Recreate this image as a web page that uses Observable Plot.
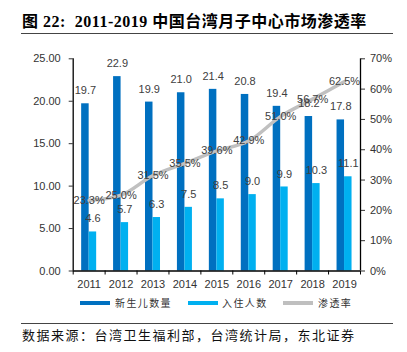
<!DOCTYPE html>
<html>
<head>
<meta charset="utf-8">
<script src="https://cdn.jsdelivr.net/npm/d3@7"></script>
<script src="https://cdn.jsdelivr.net/npm/@observablehq/plot@0.6"></script>
<style>
  html, body { margin: 0; padding: 0; background: #fff; }
  #wrap { position: relative; width: 407px; height: 352px; overflow: hidden; background: #fff; }
  #title { position: absolute; left: 22px; top: 12px; font-family: "Liberation Serif", "Noto Sans CJK SC", serif; font-weight: bold; font-size: 16px; letter-spacing: 0.5px; color: #000; white-space: nowrap; line-height: 20px; }
  .hline { position: absolute; left: 21px; width: 372px; height: 0; border-top: 1px solid #444; }
  #chart { position: absolute; left: 0; top: 40px; }
  .sw { position: absolute; width: 30px; height: 4px; top: 301px; }
  .lt { position: absolute; top: 296px; font-family: "Noto Sans CJK SC", sans-serif; font-size: 10px; letter-spacing: 1.4px; color: #333; line-height: 14px; white-space: nowrap; }
  #foot { position: absolute; left: 22px; top: 326px; font-family: "Noto Sans CJK SC", sans-serif; font-size: 13px; letter-spacing: 1.5px; color: #111; white-space: nowrap; line-height: 18px; }
</style>
</head>
<body>
<div id="wrap">
  <div id="title">图 22:&nbsp; 2011-2019 中国台湾月子中心市场渗透率</div>
  <div class="hline" style="top:33px"></div>
  <div id="chart"></div>
  <div class="sw" style="left:80px;background:#0070C0"></div><div class="lt" style="left:115px">新生儿数量</div>
  <div class="sw" style="left:188px;background:#00B0F0"></div><div class="lt" style="left:222px">入住人数</div>
  <div class="sw" style="left:283px;background:#BFBFBF"></div><div class="lt" style="left:318px">渗透率</div>
  <div class="hline" style="top:323px"></div>
  <div id="foot">数据来源：台湾卫生福利部，台湾统计局，东北证券</div>
</div>
<script>
const years = [2011, 2012, 2013, 2014, 2015, 2016, 2017, 2018, 2019];
const births = [19.7, 22.9, 19.9, 21.0, 21.4, 20.8, 19.4, 18.2, 17.8];
const checkins = [4.6, 5.7, 6.3, 7.5, 8.5, 9.0, 9.9, 10.3, 11.1];
const rates = [23.3, 25.0, 31.5, 35.5, 39.6, 42.9, 51.0, 56.7, 62.5];
const leftTicks = [0, 5, 10, 15, 20, 25];
const rightTicks = [0, 10, 20, 30, 40, 50, 60, 70];

const data = years.map((y, i) => ({year: y, births: births[i], checkins: checkins[i], rate: rates[i]}));
const k = 25 / 70;      // right-axis (%) to left-axis units
const half = 0.235;     // half of a bar pair, in year units
const boundaries = [years[0] - 0.5, ...years.map(y => y + 0.5)];
const txt = "#404040";

const chart = Plot.plot({
  width: 407,
  height: 256,
  marginTop: 18.3,
  marginBottom: 25.5,
  marginLeft: 72.7,
  marginRight: 47,
  x: {domain: [years[0] - 0.5, years[years.length - 1] + 0.5], axis: null, label: null},
  y: {domain: [0, 25], axis: null, label: null},
  style: {fontFamily: "'Liberation Sans', Arial, sans-serif", fontSize: "11px", color: "#333", background: "transparent"},
  marks: [
    Plot.rectY(data, {x1: d => d.year - half, x2: d => d.year, y: "births", fill: "#0070C0"}),
    Plot.rectY(data, {x1: d => d.year, x2: d => d.year + half, y: "checkins", fill: "#00B0F0"}),
    Plot.line(data, {x: "year", y: d => d.rate * k, curve: "catmull-rom", stroke: "#C0C0C0", strokeWidth: 3.5}),
    Plot.text(data, {x: d => d.year - half / 2, y: "births", text: d => d.births.toFixed(1), dy: -13, fill: txt, fontSize: 11}),
    Plot.text(data, {x: d => d.year + half / 2, y: "checkins", text: d => d.checkins.toFixed(1), dy: -13, fill: txt, fontSize: 11}),
    Plot.text(data, {x: "year", y: d => d.rate * k, text: d => d.rate.toFixed(1) + "%", fill: txt, fontSize: 11}),
    Plot.axisY({anchor: "left", ticks: leftTicks, tickFormat: d => d.toFixed(2), tickSize: 4, tickPadding: 8.5, label: null}),
    Plot.axisY({anchor: "right", ticks: rightTicks.map(v => v * k), tickFormat: d => Math.round(d / k) + "%", tickSize: 4, tickPadding: 5.5, label: null}),
    Plot.axisX({ticks: boundaries, tickFormat: () => "", tickSize: 4, label: null, stroke: "#000"}),
    Plot.axisX({ticks: years, tickSize: 0, tickPadding: 9, tickFormat: d => String(d), label: null}),
    Plot.ruleX([boundaries[0]], {stroke: "#000", strokeWidth: 1.3}),
    Plot.ruleX([boundaries[boundaries.length - 1]], {stroke: "#000", strokeWidth: 1.3}),
    Plot.ruleY([0], {stroke: "#000", strokeWidth: 1.3})
  ]
});
document.getElementById("chart").appendChild(chart);
</script>
</body>
</html>
